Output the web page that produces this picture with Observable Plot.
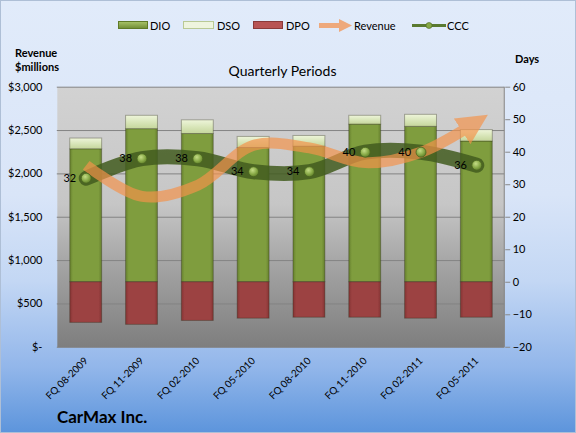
<!DOCTYPE html>
<html>
<head>
<meta charset="utf-8">
<script src="https://cdn.jsdelivr.net/npm/d3@7"></script>
<script src="https://cdn.jsdelivr.net/npm/@observablehq/plot@0.6"></script>
<style>
  html, body { margin: 0; padding: 0; }
  #wrap {
    position: relative; width: 576px; height: 433px; box-sizing: border-box;
    border: 1px solid #aebfd6;
    background: linear-gradient(to bottom, #e1ebfa 0%, #d9e5f8 45%, #c3d7f4 65%, #92b6ea 85%, #5d95dc 100%);
    font-family: Lato, "Liberation Sans", sans-serif; color: #000; overflow: hidden;
  }
  #wrap svg.main { position: absolute; left: -1px; top: -1px; }
  .ov { position: absolute; white-space: nowrap; }
  .lg { position: absolute; font-size: 11px; line-height: 12px; top: 19px; }
  svg.sw { position: absolute; top: 20px; }
</style>
</head>
<body>
<div id="wrap"></div>
<script>
// ---- data ----
const periods = ["FQ 08-2009","FQ 11-2009","FQ 02-2010","FQ 05-2010","FQ 08-2010","FQ 11-2010","FQ 02-2011","FQ 05-2011"];
const dio = [40.9, 47.1, 45.6, 41.3, 41.7, 48.5, 47.8, 43.3];
const dso = [3.3, 4.1, 4.2, 3.4, 3.3, 2.7, 3.7, 3.5];
const dpo = [12.5, 13.1, 11.9, 11.2, 10.9, 10.9, 11.2, 10.9];
const ccc = [32, 38, 38, 34, 34, 40, 40, 36];
const revenue = [2100, 1740, 1870, 2330, 2300, 2130, 2250, 2600];
const revTicks = [0, 500, 1000, 1500, 2000, 2500, 3000];
const dayTicks = [-20, -10, 0, 10, 20, 30, 40, 50, 60];
const seriesNames = ["DIO", "DSO", "DPO"];

// revenue axis ($0..$3000) shares the frame with days axis (-20..60)
const revToDays = r => -20 + r * 80 / 3000;
const daysToRev = d => (d + 20) * 3000 / 80;

const barData = periods.flatMap((p, i) => [
  {period: p, series: "DIO", value: dio[i]},
  {period: p, series: "DSO", value: dso[i]},
  {period: p, series: "DPO", value: -dpo[i]}
]);
const lineData = periods.map((p, i) => ({period: p, ccc: ccc[i], rev: revenue[i]}));

const fmtRev = d => {
  const r = Math.round(daysToRev(d));
  return r === 0 ? "$-" : "$" + d3.format(",")(r);
};

const svg = Plot.plot({
  width: 576, height: 433,
  marginLeft: 57, marginRight: 70, marginTop: 87, marginBottom: 85,
  className: "main",
  style: {background: "transparent", fontFamily: "Lato, 'Liberation Sans', sans-serif", fontSize: "11px", color: "#000", overflow: "visible"},
  x: {domain: periods, paddingInner: 0.43, paddingOuter: 0.215, label: null},
  y: {domain: [-20, 60], label: null},
  color: {domain: seriesNames, range: ["url(#gDIO)", "url(#gDSO)", "url(#gDPO)"]},
  marks: [
    Plot.frame({fill: "url(#plotbg)", stroke: null}),
    Plot.gridY(revTicks.map(revToDays), {stroke: "#848484", strokeOpacity: 1}),
    Plot.barY(barData, {x: "period", y: "value", fill: "series", stroke: "rgba(40,40,20,0.35)", strokeWidth: 1}),
    Plot.line(lineData, {x: "period", y: "ccc", stroke: "#425c1e", strokeOpacity: 0.85, strokeWidth: 15, curve: "catmull-rom", strokeLinecap: "round"}),
    Plot.line(lineData, {x: "period", y: d => revToDays(d.rev), stroke: "#f5934a", strokeWidth: 11, curve: "catmull-rom", strokeLinecap: "butt", className: "revline"}),
    Plot.dot(lineData, {x: "period", y: "ccc", r: 5, fill: "url(#gDot)", stroke: "#4a6620", strokeWidth: 0.8}),
    Plot.text(lineData, {x: "period", y: "ccc", text: d => String(d.ccc), textAnchor: "end", dx: -10, fontSize: 11, fill: "#000"}),
    Plot.axisY(revTicks.map(revToDays), {anchor: "left", tickFormat: fmtRev, tickSize: 0, tickPadding: 15, fontSize: 11, label: null}),
    Plot.axisY(dayTicks, {anchor: "right", tickSize: 5, tickPadding: 3, stroke: "#888", fontSize: 11, label: null}),
    Plot.axisX({tickRotate: -45, tickSize: 0, tickPadding: 12, fontSize: 10, label: null})
  ]
});

d3.select(svg).insert("defs", ":first-child").html(`
  <linearGradient id="plotbg" x1="0" y1="0" x2="0" y2="1">
    <stop offset="0" stop-color="#d2d2d2"/>
    <stop offset="0.45" stop-color="#c6c6c6"/>
    <stop offset="0.7" stop-color="#a2a2a2"/>
    <stop offset="1" stop-color="#7e7e7e"/>
  </linearGradient>
  <linearGradient id="gDIO" x1="0" y1="0" x2="1" y2="0">
    <stop offset="0" stop-color="#66802e"/>
    <stop offset="0.1" stop-color="#7f9d3e"/>
    <stop offset="0.9" stop-color="#7f9d3e"/>
    <stop offset="1" stop-color="#66802e"/>
  </linearGradient>
  <linearGradient id="gDSO" x1="0" y1="0" x2="0" y2="1">
    <stop offset="0" stop-color="#eef5da"/>
    <stop offset="0.5" stop-color="#d9e6ba"/>
    <stop offset="1" stop-color="#c5d69c"/>
  </linearGradient>
  <linearGradient id="gDPO" x1="0" y1="0" x2="1" y2="0">
    <stop offset="0" stop-color="#853434"/>
    <stop offset="0.1" stop-color="#9c4242"/>
    <stop offset="0.9" stop-color="#9c4242"/>
    <stop offset="1" stop-color="#853434"/>
  </linearGradient>
  <radialGradient id="gDot" cx="0.4" cy="0.35" r="0.7">
    <stop offset="0" stop-color="#c4dc86"/>
    <stop offset="0.6" stop-color="#86a845"/>
    <stop offset="1" stop-color="#5c7a28"/>
  </radialGradient>
  <marker id="revArrow" markerUnits="strokeWidth" markerWidth="2.8" markerHeight="2.8" viewBox="0 0 2.8 2.8" refX="1.6" refY="1.4" orient="auto">
    <path d="M0,0 L2.8,1.4 L0,2.8 Z" fill="#f5934a"/>
  </marker>
`);
const rev = svg.querySelector("g.revline");
if (rev) {
  rev.setAttribute("opacity", "0.68");
  rev.querySelectorAll("path").forEach(p => p.setAttribute("marker-end", "url(#revArrow)"));
}
// right axis line
d3.select(svg).append("line")
  .attr("x1", 576 - 70).attr("x2", 576 - 70).attr("y1", 87).attr("y2", 433 - 85)
  .attr("stroke", "#888");

const wrap = document.getElementById("wrap");
wrap.appendChild(svg);

// ---- legend and labels (HTML text) ----
const legendHTML = `
  <svg class="sw" style="left:117px" width="30" height="9"><defs><linearGradient id="gDIO2" x1="0" y1="0" x2="0" y2="1"><stop offset="0" stop-color="#a9c46a"/><stop offset="1" stop-color="#6f8c35"/></linearGradient></defs><rect x="0.5" y="0.5" width="29" height="7" fill="url(#gDIO2)" stroke="#5f7a28"/></svg>
  <div class="lg" style="left:149px">DIO</div>
  <svg class="sw" style="left:182px" width="32" height="9"><rect x="0.5" y="0.5" width="30" height="7" fill="#eef4de" stroke="#b9c995"/></svg>
  <div class="lg" style="left:216px">DSO</div>
  <svg class="sw" style="left:252px" width="31" height="9"><rect x="0.5" y="0.5" width="29" height="7" fill="#b85454" stroke="#8a3a3a"/></svg>
  <div class="lg" style="left:285px">DPO</div>
  <svg class="sw" style="left:318px;top:17px" width="34" height="15"><path d="M0,7.5 L22,7.5" stroke="#eea97c" stroke-width="5"/><path d="M20,1 L33,7.5 L20,14 Z" fill="#eea97c"/></svg>
  <div class="lg" style="left:353px">Revenue</div>
  <svg class="sw" style="left:411px;top:20px" width="34" height="9"><path d="M0,4.5 L34,4.5" stroke="#5a7a30" stroke-width="3"/><circle cx="17" cy="4.5" r="3" fill="#86a845" stroke="#4a6620" stroke-width="0.6"/></svg>
  <div class="lg" style="left:446px">CCC</div>
  <div class="ov" style="left:14px;top:45px;font-weight:bold;font-size:11px;line-height:14px">Revenue<br>$millions</div>
  <div class="ov" style="left:514px;top:51px;font-weight:bold;font-size:11px">Days</div>
  <div class="ov" style="left:57px;width:449px;top:61px;text-align:center;font-size:14px">Quarterly Periods</div>
  <div class="ov" style="left:56px;top:405px;font-weight:bold;font-size:17px">CarMax Inc.</div>
`;
wrap.insertAdjacentHTML("beforeend", legendHTML);
</script>
</body>
</html>
